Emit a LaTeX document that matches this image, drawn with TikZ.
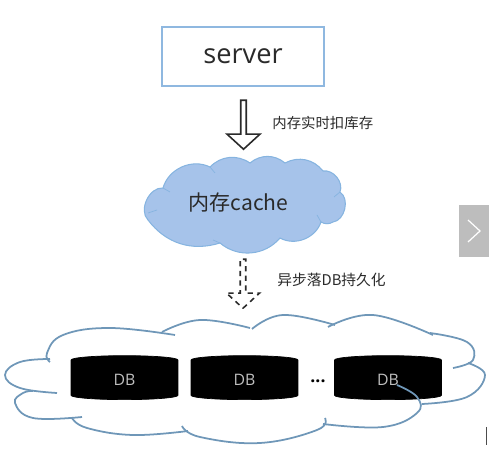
\documentclass[tikz,border=0pt]{standalone}
\usepackage{xcolor}
\usepackage{fontspec}
\setmainfont{Open Sans}
\newfontfamily\cjkfont{Noto Sans CJK SC}
\usetikzlibrary{shapes.geometric, shapes.arrows}
\definecolor{boxblue}{HTML}{8FB8E0}
\definecolor{cachefill}{HTML}{A6C3EA}
\definecolor{cacheline}{HTML}{86B4E0}
\definecolor{cloudline}{HTML}{6F97B8}
\definecolor{pagergrey}{HTML}{BDBDBD}
\definecolor{textmain}{HTML}{2A2A2A}
\tikzstyle{serverbox} = [draw=boxblue, line width=1.2pt, minimum width=3.24cm, minimum height=1.18cm, inner sep=0pt, text=textmain, font=\fontsize{15.5}{18}\selectfont]
\tikzstyle{blockarrow} = [single arrow, shape border rotate=270, draw=textmain, line width=0.9pt, fill=white, minimum width=0.66cm, minimum height=0.98cm, single arrow head extend=0.08cm, single arrow tip angle=95, inner sep=0pt]
\tikzstyle{note} = [text=textmain, font=\cjkfont\fontsize{8.2}{10}\selectfont, anchor=west, inner sep=0pt]
\tikzstyle{dbdisk} = [cylinder, shape border rotate=90, aspect=0.4, draw=black, fill=black, minimum width=2.14cm, minimum height=0.88cm, inner sep=0pt, text=black!25, font=\fontsize{9}{10}\selectfont]
\tikzstyle{lobe} = [draw=cloudline, line width=1pt, smooth, tension=0.7]
\begin{document}
\begin{tikzpicture}[x=0.02cm, y=-0.02cm]
    \useasboundingbox (0,0) rectangle (494,452);
    \node[serverbox] (server) at (243,56.5) {\raisebox{-1.7pt}{server}};
    \node[blockarrow] (syncarrow) at (243.5,123.5) {};
    \node[note] (synclabel) at (272,123) {内存实时扣库存};

    % cache cloud
    \draw[draw=cacheline, fill=cachefill, line width=0.6pt] (163,188)
        to[bend left=50] (210,167) to[bend left=40] (250,163) to[bend left=40] (285,163)
        to[bend left=40] (323,171) to[bend left=60] (340,192) to[bend left=70] (333,222)
        to[bend left=30] (321,222) to[bend left=50] (280,238) to[bend left=45] (220,243)
        to[bend left=35] (148,220) to[bend left=70] (163,188) -- cycle;
    \draw[cacheline, line width=0.4pt] (163,188) -- (170,192) (210,167) -- (215,173) (340,192) -- (334,197)
        (148,213) -- (157,210) (321,222) -- (317,215) (220,243) -- (213,240);
    \node[text=textmain, font=\cjkfont\fontsize{12}{14}\selectfont, inner sep=0pt] (cache) at (238.5,203) {内存cache};

    \node[blockarrow, dash pattern=on 3pt off 2.5pt] (asyncarrow) at (243,282.5) {};
    \node[note, font=\cjkfont\fontsize{8.4}{10}\selectfont] (asynclabel) at (277,280) {异步落DB持久化};

    % storage cloud
    \draw[lobe] plot coordinates {(57,393) (20,388) (5,375) (20,362) (50,359)};
    \draw[lobe] plot coordinates {(50,362) (47,353) (63,335) (110,328) (175,335)};
    \draw[lobe] plot coordinates {(162,332) (200,320) (250,328)};
    \draw[lobe] plot coordinates {(252,329) (283,315) (335,325)};
    \draw[lobe] plot coordinates {(328,327) (373,315) (433,335)};
    \draw[lobe] plot coordinates {(430,333) (467,342) (473,360) (453,368)};
    \draw[lobe] plot coordinates {(468,363) (485,375) (467,397) (422,404)};
    \draw[lobe] plot coordinates {(325,418) (317,430) (260,443) (200,437) (182,426)};
    \draw[lobe] plot coordinates {(188,431) (133,435) (87,428) (72,418)};
    \draw[lobe] plot coordinates {(82,417) (33,418) (15,403) (23,393) (33,391)};

    \node[dbdisk] (dba) at (124.5,380) {\raisebox{-2.2pt}{DB}};
    \node[dbdisk] (dbb) at (244.5,380) {\raisebox{-2.2pt}{DB}};
    \node[dbdisk] (dbc) at (388,380) {\raisebox{-2.2pt}{DB}};
    \node[font=\bfseries, text=black, inner sep=0pt] (dots) at (318,381) {...};
    \draw[lobe] plot coordinates {(397,385) (417,397) (417,413) (383,427) (323,424)};

    % pager button
    \node[fill=pagergrey, minimum width=0.6cm, minimum height=1.04cm, inner sep=0pt] (pager) at (474,231) {};
    \draw[white, line width=0.7pt] (468,220) -- (480,231) -- (468,242);
    \draw[black!70, line width=0.6pt] (486.5,427) -- (486.5,445);
\end{tikzpicture}
\end{document}
